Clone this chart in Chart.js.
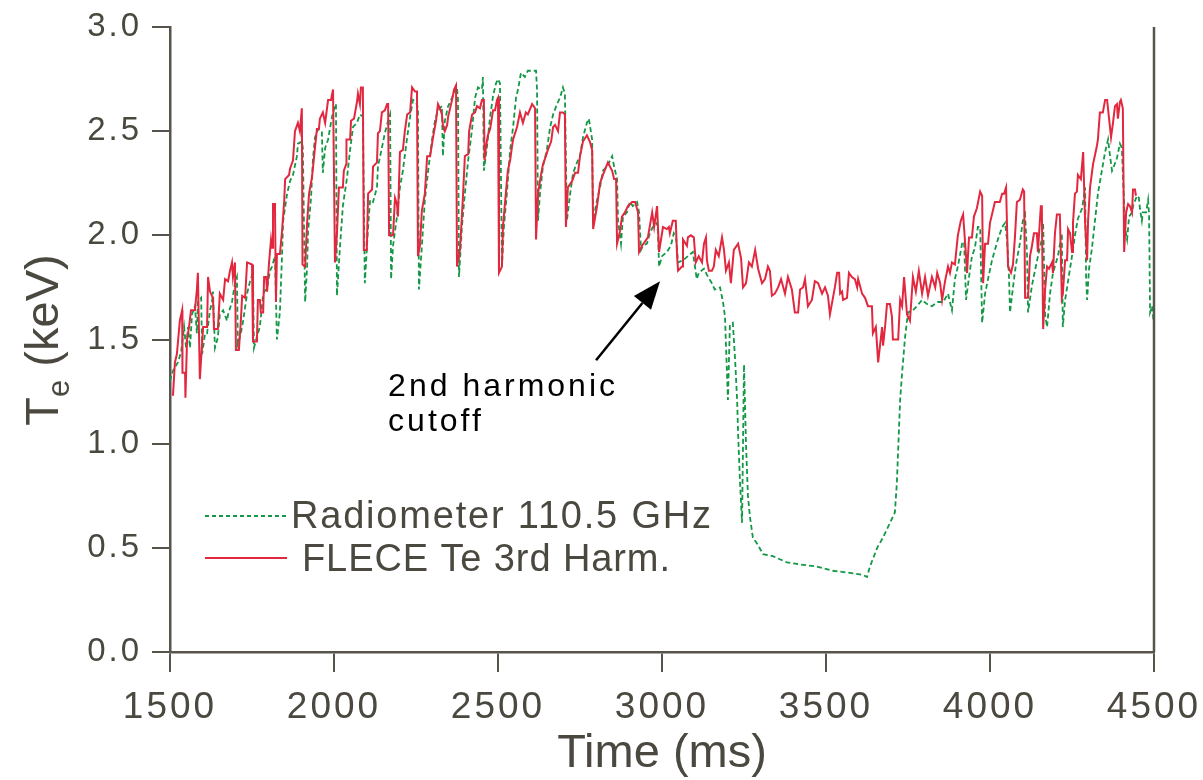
<!DOCTYPE html>
<html>
<head>
<meta charset="utf-8">
<script src="https://cdn.jsdelivr.net/npm/chart.js@4"></script>
<style>
  body { margin: 0; background: #fff; }
  #wrap { width: 1203px; height: 780px; position: relative; }
</style>
</head>
<body>
<div id="wrap"><canvas id="chart"></canvas></div>
<script>
// FLECE Te 3rd harmonic (red, solid)
const flecTime = [1509,1515,1521,1530,1537,1538,1546,1547,1552,1558,1564,1576,1582,1585,1591,1601,1613,1616,1622,1631,1634,1646,1652,1662,1668,1677,1683,1689,1692,1698,1701,1710,1716,1720,1729,1735,1750,1753,1765,1768,1774,1777,1784,1787,1793,1796,1802,1808,1811,1814,1820,1823,1826,1835,1841,1848,1851,1863,1866,1875,1881,1890,1896,1902,1904,1912,1918,1924,1933,1942,1948,1954,1957,1966,1973,1982,1991,1997,2003,2009,2015,2027,2030,2037,2038,2049,2052,2061,2070,2073,2079,2082,2088,2091,2100,2104,2116,2119,2131,2134,2140,2146,2155,2162,2165,2168,2180,2186,2192,2195,2201,2210,2216,2223,2232,2238,2247,2253,2256,2262,2268,2277,2284,2293,2302,2311,2317,2323,2329,2332,2338,2345,2348,2360,2366,2372,2375,2384,2393,2399,2409,2412,2421,2430,2436,2445,2451,2457,2459,2463,2469,2476,2485,2491,2497,2500,2503,2512,2515,2521,2530,2537,2543,2546,2558,2567,2576,2585,2591,2604,2613,2616,2622,2631,2637,2646,2652,2662,2668,2674,2683,2689,2698,2704,2707,2713,2726,2735,2744,2750,2759,2771,2780,2787,2790,2802,2811,2820,2835,2848,2854,2860,2863,2872,2878,2887,2896,2909,2918,2927,2930,2939,2948,2957,2970,2976,2985,2991,3003,3015,3021,3024,3033,3042,3046,3049,3061,3064,3076,3079,3088,3097,3103,3112,3122,3128,3134,3137,3143,3152,3158,3164,3173,3183,3189,3195,3204,3210,3219,3232,3241,3247,3256,3265,3274,3284,3293,3305,3314,3323,3329,3335,3344,3354,3363,3375,3384,3396,3405,3415,3421,3430,3436,3445,3457,3466,3476,3488,3497,3506,3512,3527,3534,3540,3543,3549,3552,3564,3570,3579,3588,3595,3598,3610,3619,3628,3640,3643,3652,3659,3671,3674,3680,3686,3695,3701,3704,3720,3726,3732,3738,3747,3756,3765,3774,3783,3793,3802,3811,3823,3833,3839,3848,3854,3863,3872,3878,3884,3893,3902,3911,3918,3927,3930,3936,3945,3951,3960,3970,3976,3979,3985,3994,4000,4015,4030,4037,4043,4049,4052,4055,4064,4070,4076,4082,4091,4100,4104,4107,4116,4122,4128,4134,4143,4146,4155,4158,4162,4168,4174,4180,4189,4192,4198,4204,4213,4219,4222,4229,4235,4238,4244,4250,4253,4259,4265,4268,4277,4284,4290,4296,4299,4305,4314,4326,4329,4335,4344,4351,4357,4363,4369,4375,4381,4387,4390,4396,4399,4405,4409,4415,4421,4427,4433,4436,4442,4445];
const flecTe = [1.23,1.39,1.43,1.59,1.64,1.34,1.34,1.22,1.50,1.56,1.64,1.64,1.74,1.82,1.31,1.56,1.56,1.80,1.73,1.70,1.55,1.55,1.72,1.69,1.79,1.78,1.83,1.87,1.80,1.87,1.45,1.45,1.59,1.71,1.70,1.87,1.86,1.49,1.49,1.69,1.69,1.63,1.63,1.80,1.80,1.73,1.87,1.98,1.94,2.15,2.15,1.68,1.91,1.91,2.01,2.16,2.27,2.29,2.32,2.36,2.50,2.54,2.50,2.61,1.86,1.85,2.06,2.20,2.28,2.42,2.51,2.51,2.56,2.59,2.54,2.65,2.65,2.70,1.87,2.01,2.23,2.23,2.31,2.34,2.46,2.46,2.55,2.56,2.64,2.68,2.63,2.71,2.71,1.93,1.93,2.20,2.22,2.33,2.35,2.49,2.50,2.59,2.60,2.63,2.63,2.00,2.00,2.18,2.15,2.09,2.40,2.41,2.50,2.58,2.59,2.71,2.69,2.69,1.90,1.95,2.12,2.20,2.38,2.38,2.47,2.55,2.63,2.61,2.58,2.53,2.50,2.53,2.57,2.65,2.70,2.72,1.85,1.93,2.18,2.38,2.39,2.50,2.58,2.59,2.62,2.61,2.65,2.65,2.36,2.42,2.48,2.51,2.60,2.60,2.65,2.66,1.82,1.85,2.04,2.15,2.31,2.36,2.43,2.46,2.52,2.59,2.54,2.59,2.58,2.63,2.61,1.98,2.20,2.29,2.34,2.38,2.41,2.45,2.52,2.53,2.50,2.59,2.59,2.58,2.04,2.23,2.26,2.30,2.30,2.38,2.45,2.48,2.45,2.41,2.03,2.14,2.25,2.29,2.35,2.31,2.27,2.27,1.96,2.02,2.09,2.11,2.14,2.16,2.16,2.11,1.92,1.95,1.97,1.99,2.11,2.04,2.14,1.92,2.04,2.03,2.04,2.01,2.07,2.07,1.90,1.83,1.85,1.98,1.95,1.99,2.00,1.99,1.87,1.90,1.87,1.96,1.99,1.88,1.83,1.83,1.85,1.93,1.90,1.99,1.93,1.83,1.87,1.77,1.93,1.96,1.89,1.75,1.77,1.87,1.85,1.93,1.84,1.77,1.79,1.85,1.83,1.71,1.72,1.75,1.79,1.72,1.80,1.74,1.63,1.63,1.74,1.75,1.79,1.66,1.69,1.78,1.77,1.72,1.75,1.71,1.62,1.75,1.82,1.82,1.72,1.73,1.69,1.70,1.82,1.80,1.79,1.75,1.79,1.72,1.70,1.66,1.66,1.53,1.56,1.39,1.56,1.47,1.56,1.67,1.67,1.61,1.50,1.50,1.69,1.66,1.80,1.62,1.59,1.80,1.73,1.83,1.72,1.80,1.71,1.80,1.75,1.82,1.77,1.69,1.78,1.85,1.82,1.87,1.86,2.00,2.07,2.10,1.90,1.82,1.99,1.99,2.09,2.13,2.21,2.19,1.77,1.96,1.96,2.06,2.16,2.16,2.20,2.20,2.23,2.04,1.85,1.82,1.86,1.99,2.16,2.17,2.22,2.21,1.70,1.70,1.90,1.95,2.01,2.01,1.92,2.14,2.14,1.55,1.74,1.85,1.84,1.87,1.82,2.01,2.10,2.10,1.70,1.72,1.88,1.88,2.03,2.01,1.92,2.06,2.20,2.21,2.29,2.27,2.40,2.06,1.88,2.07,2.23,2.34,2.43,2.46,2.59,2.59,2.65,2.65,2.56,2.47,2.54,2.62,2.63,2.56,2.64,2.65,2.61,1.92,2.11,2.15,2.14,2.11,2.22,2.22,2.19];

// Radiometer 110.5 GHz (green, dashed)
const radTime = [1500,1509,1524,1534,1543,1549,1555,1561,1567,1576,1582,1585,1595,1598,1607,1613,1622,1628,1631,1637,1646,1652,1662,1674,1677,1689,1698,1704,1707,1716,1723,1735,1744,1753,1756,1768,1774,1784,1796,1805,1811,1820,1826,1835,1841,1845,1857,1866,1875,1887,1890,1902,1905,1912,1918,1921,1930,1936,1942,1951,1963,1966,1973,1982,1994,2003,2006,2009,2018,2027,2040,2049,2058,2070,2079,2088,2094,2104,2110,2119,2131,2134,2146,2155,2165,2171,2174,2180,2192,2201,2210,2223,2232,2241,2253,2256,2259,2268,2277,2287,2299,2308,2317,2329,2332,2338,2348,2360,2369,2375,2378,2381,2390,2399,2409,2421,2430,2439,2451,2454,2457,2466,2476,2485,2494,2500,2506,2512,2518,2527,2537,2546,2555,2561,2570,2582,2591,2604,2616,2619,2622,2628,2637,2649,2659,2668,2680,2689,2698,2704,2710,2720,2729,2741,2750,2759,2771,2777,2787,2790,2802,2811,2820,2832,2842,2848,2854,2863,2866,2875,2881,2893,2902,2911,2924,2930,2936,2942,2954,2963,2972,2985,2988,2991,3000,3015,3027,3036,3043,3049,3064,3079,3094,3106,3112,3128,3137,3152,3161,3177,3186,3192,3201,3207,3216,3223,3229,3232,3238,3244,3250,3256,3262,3268,3277,3290,3308,3338,3381,3421,3473,3521,3573,3613,3625,3634,3656,3674,3695,3710,3716,3720,3726,3732,3741,3750,3765,3777,3793,3808,3823,3841,3857,3872,3884,3893,3902,3915,3921,3927,3936,3945,3954,3963,3970,3976,3985,3994,4006,4024,4037,4046,4052,4058,4061,4070,4079,4091,4100,4107,4113,4116,4128,4137,4149,4158,4162,4168,4174,4183,4192,4207,4219,4222,4229,4238,4250,4259,4268,4281,4290,4293,4296,4302,4311,4320,4329,4341,4351,4360,4366,4372,4375,4387,4396,4402,4405,4412,4418,4424,4433,4436,4448,4454,4457,4463,4466,4476,4482,4485,4488,4494,4500];
const radTe = [1.30,1.35,1.39,1.44,1.56,1.46,1.56,1.46,1.62,1.66,1.53,1.68,1.70,1.43,1.53,1.53,1.64,1.68,1.73,1.46,1.51,1.62,1.64,1.59,1.62,1.68,1.77,1.80,1.48,1.53,1.59,1.72,1.78,1.82,1.46,1.53,1.56,1.72,1.75,1.83,1.85,1.90,1.50,1.63,1.88,2.07,2.20,2.26,2.29,2.38,2.44,2.45,2.42,1.68,1.85,2.02,2.18,2.37,2.47,2.51,2.50,2.30,2.42,2.46,2.57,2.62,2.63,1.71,1.94,2.14,2.28,2.41,2.52,2.54,2.58,2.57,1.77,2.04,2.17,2.16,2.23,2.33,2.42,2.49,2.55,2.58,1.79,1.95,2.09,2.23,2.31,2.47,2.57,2.65,2.63,2.60,1.74,1.95,2.17,2.31,2.46,2.55,2.60,2.62,2.38,2.55,2.62,2.66,2.70,2.71,2.65,1.80,2.04,2.20,2.36,2.51,2.66,2.71,2.70,2.76,2.31,2.42,2.57,2.67,2.73,2.75,2.73,1.85,2.04,2.20,2.41,2.52,2.66,2.70,2.78,2.76,2.79,2.79,2.79,2.70,2.07,2.20,2.33,2.41,2.52,2.58,2.63,2.66,2.71,2.68,2.07,2.20,2.30,2.35,2.38,2.47,2.54,2.56,2.46,2.07,2.17,2.23,2.31,2.33,2.36,2.38,2.33,2.27,2.07,1.96,2.09,2.11,2.16,2.14,2.16,2.11,1.93,1.95,1.96,2.01,2.04,2.06,2.01,1.85,1.90,1.92,1.95,2.01,1.99,1.87,1.88,1.90,1.92,1.79,1.82,1.84,1.81,1.77,1.74,1.75,1.68,1.61,1.21,1.57,1.58,1.40,1.21,1.05,0.81,0.62,1.38,1.00,0.75,0.65,0.55,0.52,0.47,0.46,0.43,0.42,0.41,0.39,0.38,0.37,0.36,0.41,0.50,0.55,0.62,0.67,0.81,0.97,1.21,1.34,1.51,1.63,1.64,1.66,1.69,1.67,1.66,1.68,1.68,1.72,1.64,1.79,1.85,1.96,1.97,1.69,1.80,1.90,1.94,2.04,2.04,1.58,1.72,1.79,1.88,1.98,2.04,2.06,1.98,1.80,1.63,1.75,1.86,1.96,2.07,2.10,1.90,1.63,1.76,1.83,1.92,1.98,2.06,1.62,1.56,1.72,1.82,1.90,2.01,1.56,1.69,1.78,1.90,2.00,2.08,2.13,2.23,1.80,1.69,1.84,1.94,2.07,2.20,2.31,2.40,2.46,2.38,2.31,2.32,2.37,2.44,2.42,2.30,2.03,1.98,2.09,2.11,2.14,2.19,2.18,2.13,2.07,2.11,2.11,2.17,2.10,1.63,1.66,1.57];

const timeTicks = [1500, 2000, 2500, 3000, 3500, 4000, 4500];
const teTicks = [0.0, 0.5, 1.0, 1.5, 2.0, 2.5, 3.0];

// annotation anchor points, in data units (ms, keV)
const arrowTip = [2994, 1.78];
const arrowTail = [2799, 1.40];
const noteAt = [2165, 1.23];
const noteLines = ['2nd harmonic', 'cutoff'];

const axisColor = '#57544c';
const textColor = '#4b4840';
const redColor = '#e2283f';
const greenColor = '#129846';
const FONT = '"Liberation Sans", Arial, sans-serif';

function toPoints(xs, ys) {
    return xs.map((x, i) => ({ x: x, y: ys[i] }));
}

// tick labels in the original are widely tracked
const tracking = {
    id: 'tracking',
    beforeDraw(chart) { chart.ctx.letterSpacing = '3px'; },
    beforeDatasetsDraw(chart) { chart.ctx.letterSpacing = '0px'; }
};

// right frame line, axis titles, legend and the cutoff note
const extras = {
    id: 'extras',
    afterDraw(chart) {
        const ctx = chart.ctx;
        const area = chart.chartArea;
        const xs = chart.scales.x;
        const ys = chart.scales.y;
        ctx.save();
        ctx.letterSpacing = '0px';

        ctx.strokeStyle = axisColor;
        ctx.lineWidth = 2.5;
        ctx.beginPath();
        ctx.moveTo(area.right, area.top);
        ctx.lineTo(area.right, area.bottom);
        ctx.stroke();

        ctx.fillStyle = textColor;
        ctx.textBaseline = 'alphabetic';
        ctx.textAlign = 'center';
        ctx.font = '47px ' + FONT;
        ctx.fillText('Time (ms)', (area.left + area.right) / 2, 767);

        // T_e (keV)
        ctx.textAlign = 'left';
        const big = '47px ' + FONT;
        const small = '31px ' + FONT;
        ctx.font = big;
        const wT = ctx.measureText('T').width;
        const wRest = ctx.measureText(' (keV)').width;
        ctx.font = small;
        const wE = ctx.measureText('e').width;
        const total = wT + wE + wRest;
        ctx.translate(58, 340);
        ctx.rotate(-Math.PI / 2);
        let pos = -total / 2;
        ctx.font = big;
        ctx.fillText('T', pos, 0);
        pos += wT;
        ctx.font = small;
        ctx.fillText('e', pos, 11);
        pos += wE;
        ctx.font = big;
        ctx.fillText(' (keV)', pos, 0);
        ctx.setTransform(1, 0, 0, 1, 0, 0);

        // legend
        const lx = area.left + 35;
        ctx.lineWidth = 1.8;
        ctx.strokeStyle = greenColor;
        ctx.setLineDash([4, 3]);
        ctx.beginPath();
        ctx.moveTo(lx, 516);
        ctx.lineTo(lx + 82, 516);
        ctx.stroke();
        ctx.setLineDash([]);
        ctx.strokeStyle = redColor;
        ctx.lineWidth = 2;
        ctx.beginPath();
        ctx.moveTo(lx, 558);
        ctx.lineTo(lx + 82, 558);
        ctx.stroke();
        ctx.font = '38px ' + FONT;
        ctx.fillStyle = textColor;
        ctx.letterSpacing = '1.8px';
        ctx.fillText('Radiometer 110.5 GHz', lx + 86, 528);
        ctx.letterSpacing = '0.9px';
        ctx.fillText('FLECE Te 3rd Harm.', lx + 97, 571);

        // note + arrow
        ctx.fillStyle = '#000';
        ctx.font = '32px ' + FONT;
        ctx.letterSpacing = '3px';
        const nx = xs.getPixelForValue(noteAt[0]);
        const ny = ys.getPixelForValue(noteAt[1]);
        noteLines.forEach((t, i) => ctx.fillText(t, nx, ny + i * 35));
        ctx.letterSpacing = '0px';

        const tx = xs.getPixelForValue(arrowTip[0]);
        const ty = ys.getPixelForValue(arrowTip[1]);
        const sx = xs.getPixelForValue(arrowTail[0]);
        const sy = ys.getPixelForValue(arrowTail[1]);
        const ang = Math.atan2(ty - sy, tx - sx);
        const headLen = 28, headW = 11;
        const bx = tx - headLen * Math.cos(ang);
        const by = ty - headLen * Math.sin(ang);
        ctx.strokeStyle = '#000';
        ctx.lineWidth = 2.5;
        ctx.beginPath();
        ctx.moveTo(sx, sy);
        ctx.lineTo(bx, by);
        ctx.stroke();
        ctx.beginPath();
        ctx.moveTo(tx, ty);
        ctx.lineTo(bx + headW * Math.sin(ang), by - headW * Math.cos(ang));
        ctx.lineTo(bx - headW * Math.sin(ang), by + headW * Math.cos(ang));
        ctx.closePath();
        ctx.fill();

        ctx.restore();
    }
};

new Chart(document.getElementById('chart'), {
    type: 'line',
    data: {
        datasets: [
            {
                label: 'FLECE Te 3rd Harm.',
                data: toPoints(flecTime, flecTe),
                borderColor: redColor,
                borderWidth: 2,
                pointRadius: 0,
                tension: 0,
                fill: false
            },
            {
                label: 'Radiometer 110.5 GHz',
                data: toPoints(radTime, radTe),
                borderColor: greenColor,
                borderWidth: 1.8,
                borderDash: [5, 3],
                pointRadius: 0,
                tension: 0,
                fill: false
            }
        ]
    },
    options: {
        responsive: true,
        maintainAspectRatio: false,
        animation: false,
        layout: { padding: { top: 27, right: 49, left: 0, bottom: 0 } },
        plugins: {
            legend: { display: false },
            tooltip: { enabled: false }
        },
        scales: {
            x: {
                type: 'linear',
                min: timeTicks[0],
                max: timeTicks[timeTicks.length - 1],
                afterBuildTicks: s => { s.ticks = timeTicks.map(v => ({ value: v })); },
                afterFit: s => {
                    s.height = 128;
                    s.paddingLeft = 0;
                    s.paddingRight = 0;
                },
                border: { display: true, color: axisColor, width: 2.5 },
                grid: { drawOnChartArea: false, drawTicks: true, tickLength: 20, color: axisColor, lineWidth: 2 },
                ticks: {
                    color: textColor,
                    font: { family: FONT, size: 37 },
                    padding: 14,
                    maxRotation: 0,
                    autoSkip: false,
                    callback: v => String(v)
                }
            },
            y: {
                type: 'linear',
                min: teTicks[0],
                max: teTicks[teTicks.length - 1],
                afterBuildTicks: s => { s.ticks = teTicks.map(v => ({ value: v })); },
                afterFit: s => {
                    s.width = 170;
                    s.paddingTop = 0;
                    s.paddingBottom = 0;
                },
                border: { display: true, color: axisColor, width: 2.5 },
                grid: { drawOnChartArea: false, drawTicks: true, tickLength: 18, color: axisColor, lineWidth: 2 },
                ticks: {
                    color: textColor,
                    font: { family: FONT, size: 33 },
                    padding: 10,
                    callback: v => v.toFixed(1)
                }
            }
        }
    },
    plugins: [tracking, extras]
});
</script>
</body>
</html>
